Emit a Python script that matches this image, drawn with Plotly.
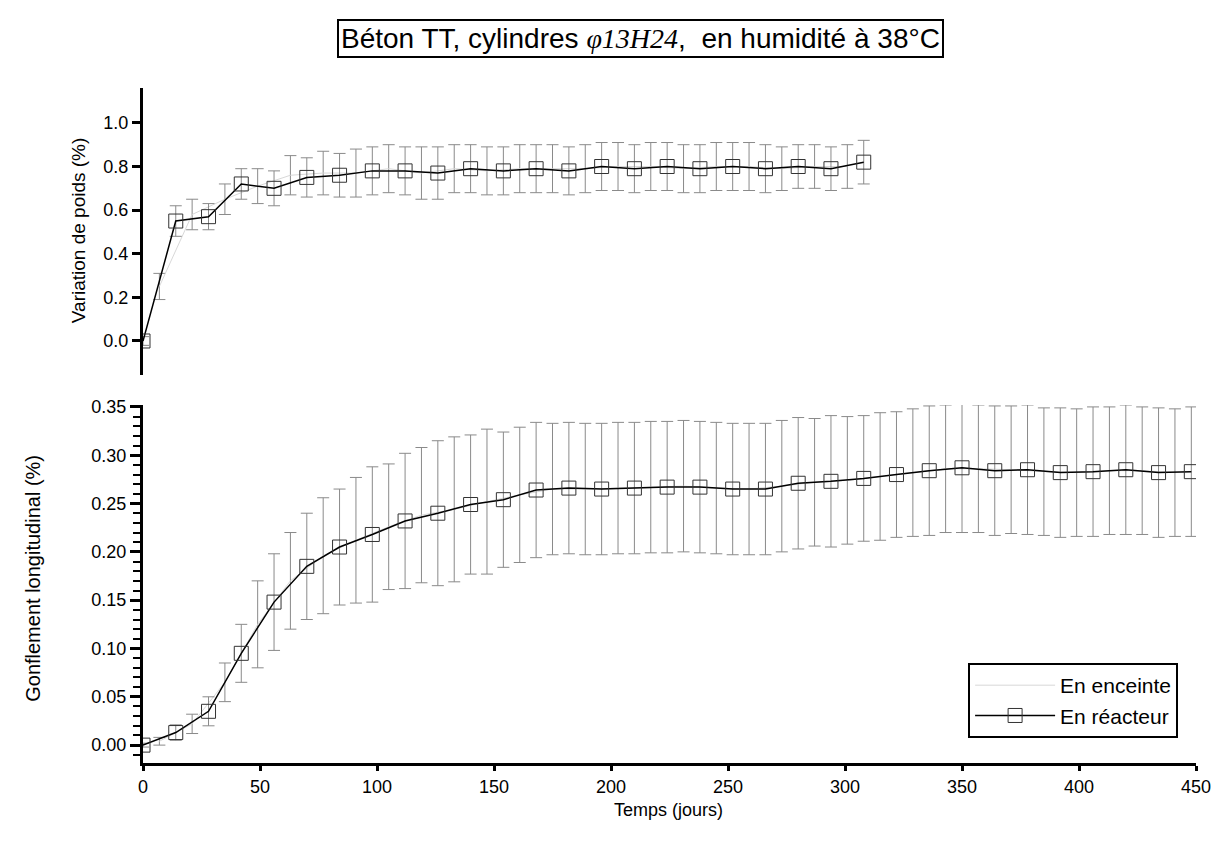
import plotly.graph_objects as go

# --- data ---------------------------------------------------------------
# weight variation (top panel), "En réacteur" (squares)
jours_poids_reac = [0, 14, 28, 42, 56, 70, 84, 98, 112, 126, 140, 154, 168, 182,
                    196, 210, 224, 238, 252, 266, 280, 294, 308]
poids_reac = [0.00, 0.55, 0.57, 0.72, 0.70, 0.75, 0.76, 0.78, 0.78, 0.77, 0.79, 0.78,
              0.79, 0.78, 0.80, 0.79, 0.80, 0.79, 0.80, 0.79, 0.80, 0.79, 0.82]
err_poids_reac = [0.02, 0.07, 0.06, 0.07, 0.08, 0.09, 0.10, 0.11, 0.11, 0.12, 0.11, 0.11,
                  0.11, 0.11, 0.11, 0.11, 0.11, 0.11, 0.11, 0.11, 0.10, 0.10, 0.10]

# weight variation, "En enceinte"
jours_poids_enc = [7, 21, 35, 49, 63, 77, 91, 105, 119, 133, 147, 161, 175, 189,
                   203, 217, 231, 245, 259, 273, 287, 301]
poids_enc = [0.25, 0.58, 0.65, 0.71, 0.76, 0.77, 0.77, 0.79, 0.77, 0.79, 0.78, 0.79,
             0.79, 0.79, 0.80, 0.80, 0.79, 0.80, 0.80, 0.79, 0.80, 0.80]
err_poids_enc = [0.06, 0.07, 0.07, 0.08, 0.09, 0.10, 0.11, 0.11, 0.12, 0.11, 0.11, 0.11,
                 0.11, 0.11, 0.11, 0.11, 0.11, 0.11, 0.11, 0.10, 0.10, 0.10]

# longitudinal swelling (bottom panel), "En réacteur"
jours_gonf_reac = [0, 14, 28, 42, 56, 70, 84, 98, 112, 126, 140, 154, 168, 182, 196,
                   210, 224, 238, 252, 266, 280, 294, 308, 322, 336, 350, 364, 378,
                   392, 406, 420, 434, 448]
gonf_reac = [0.000, 0.013, 0.035, 0.095, 0.148, 0.185, 0.205, 0.218, 0.232, 0.240,
             0.249, 0.254, 0.264, 0.266, 0.265, 0.266, 0.267, 0.267, 0.265, 0.265,
             0.271, 0.273, 0.276, 0.280, 0.284, 0.287, 0.284, 0.285, 0.282, 0.283,
             0.285, 0.282, 0.283]
err_gonf_reac = [0.002, 0.008, 0.015, 0.030, 0.050, 0.055, 0.060, 0.070, 0.070, 0.075,
                 0.072, 0.070, 0.070, 0.068, 0.068, 0.068, 0.068, 0.068, 0.068, 0.068,
                 0.068, 0.068, 0.065, 0.065, 0.067, 0.067, 0.067, 0.067, 0.067, 0.067,
                 0.067, 0.067, 0.067]

# longitudinal swelling, "En enceinte"
jours_gonf_enc = [7, 21, 35, 49, 63, 77, 91, 105, 119, 133, 147, 161, 175, 189, 203,
                  217, 231, 245, 259, 273, 287, 301, 315, 329, 343, 357, 371, 385,
                  399, 413, 427, 441]
gonf_enc = [0.004, 0.022, 0.065, 0.125, 0.170, 0.196, 0.212, 0.226, 0.238, 0.244,
            0.252, 0.259, 0.265, 0.265, 0.266, 0.267, 0.268, 0.266, 0.265, 0.268,
            0.272, 0.274, 0.278, 0.282, 0.286, 0.286, 0.285, 0.283, 0.282, 0.284,
            0.284, 0.282]
err_gonf_enc = [0.004, 0.010, 0.020, 0.045, 0.050, 0.060, 0.065, 0.065, 0.070, 0.075,
                0.075, 0.070, 0.068, 0.068, 0.068, 0.068, 0.068, 0.068, 0.068, 0.068,
                0.066, 0.066, 0.066, 0.066, 0.066, 0.066, 0.066, 0.066, 0.066, 0.066,
                0.066, 0.066]

FONT = "Liberation Sans, Arial, sans-serif"
ERR = dict(type="data", thickness=1, width=6, color="#8a8a8a")

# --- traces -------------------------------------------------------------
enc_style = dict(mode="lines", line=dict(color="#d8d8d8", width=1))
reac_style = dict(mode="lines+markers", line=dict(color="black", width=1.5),
                  marker=dict(symbol="square-open", size=14,
                              color="#333333", line=dict(width=1)))

t_poids_enc = go.Scatter(x=jours_poids_enc, y=poids_enc, name="En enceinte",
                         error_y=dict(array=err_poids_enc, **ERR),
                         xaxis="x", yaxis="y", showlegend=False, **enc_style)
t_poids_reac = go.Scatter(x=jours_poids_reac, y=poids_reac, name="En réacteur",
                          error_y=dict(array=err_poids_reac, **ERR),
                          xaxis="x", yaxis="y", showlegend=False, **reac_style)
t_gonf_enc = go.Scatter(x=jours_gonf_enc, y=gonf_enc, name="En enceinte",
                        error_y=dict(array=err_gonf_enc, **ERR),
                        xaxis="x2", yaxis="y2", **enc_style)
t_gonf_reac = go.Scatter(x=jours_gonf_reac, y=gonf_reac, name="En réacteur",
                         error_y=dict(array=err_gonf_reac, **ERR),
                         xaxis="x2", yaxis="y2", **reac_style)

data = [t_poids_enc, t_poids_reac, t_gonf_enc, t_gonf_reac]

# --- layout -------------------------------------------------------------
# page has an 8px body margin, so the figure is 8px smaller on each side
layout = go.Layout(
    width=1215, height=847,
    margin=dict(l=135, r=20, t=80, b=92),
    paper_bgcolor="white", plot_bgcolor="white",
    font=dict(family=FONT, size=18, color="black"),
    xaxis=dict(range=[0, 450], domain=[0, 1], anchor="y", visible=False),
    yaxis=dict(range=[-0.156, 1.16], domain=[0.5748, 1], anchor="x",
               tickvals=[0.0, 0.2, 0.4, 0.6, 0.8, 1.0], tickformat=".1f",
               showline=True, linewidth=3, linecolor="black",
               ticks="outside", ticklen=8, tickwidth=3, tickcolor="black",
               showgrid=False, zeroline=False),
    xaxis2=dict(range=[0, 450], domain=[0, 1], anchor="y2",
                dtick=50, tick0=0, showline=True, linewidth=3, linecolor="black",
                ticks="outside", ticklen=5, tickwidth=2.5, tickcolor="black",
                showgrid=False, zeroline=False),
    yaxis2=dict(range=[-0.0185, 0.352], domain=[0, 0.5304], anchor="x2",
                dtick=0.05, tick0=0, tickformat=".2f",
                showline=True, linewidth=3, linecolor="black",
                ticks="outside", ticklen=10, tickwidth=2.5, tickcolor="black",
                minor=dict(dtick=0.01, ticks="outside", ticklen=7, tickwidth=2,
                           tickcolor="black"),
                showgrid=False, zeroline=False),
    legend=dict(x=0.983, xanchor="right", y=0.037, yanchor="bottom",
                bordercolor="black", borderwidth=2, bgcolor="white",
                font=dict(size=21), itemwidth=80, tracegroupgap=0),
    annotations=[
        dict(text="Béton TT, cylindres <span style='font-family:Liberation Serif'>"
                  "<i>φ13H24</i></span>,  en humidité à 38°C",
             xref="paper", yref="paper", x=0.4726, y=1.0726,
             xanchor="center", yanchor="middle",
             showarrow=False, font=dict(family="Liberation Sans, Arial", size=28),
             bordercolor="black", borderwidth=2, borderpad=2, bgcolor="white"),
        dict(text="Variation de poids (%)", textangle=-90,
             xref="paper", yref="paper", x=-0.0613, y=0.79,
             xanchor="center", yanchor="middle",
             showarrow=False, font=dict(size=19)),
        dict(text="Gonflement longitudinal (%)", textangle=-90,
             xref="paper", yref="paper", x=-0.1047, y=0.274,
             xanchor="center", yanchor="middle",
             showarrow=False, font=dict(size=20)),
        dict(text="Temps (jours)", xref="paper", yref="paper", x=0.499, y=-0.0696,
             xanchor="center", yanchor="middle",
             showarrow=False, font=dict(size=18)),
    ],
)

fig = go.Figure(data=data, layout=layout)
fig.write_html("out.html")
